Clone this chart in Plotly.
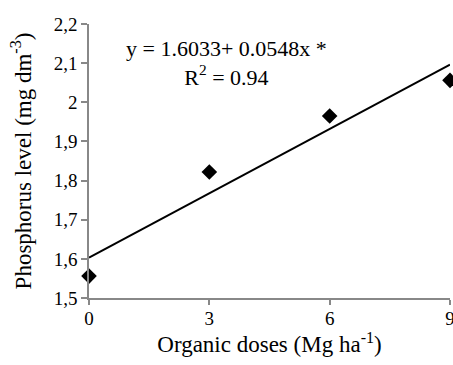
import plotly.graph_objects as go

doses = [0, 3, 6, 9]
phosphorus = [1.556, 1.822, 1.965, 2.056]
intercept = 1.6033
slope = 0.0548
fit_x = [0, 9]
fit_y = [intercept + slope * x for x in fit_x]
y_ticks = [1.5, 1.6, 1.7, 1.8, 1.9, 2.0, 2.1, 2.2]
y_tick_labels = ["1,5", "1,6", "1,7", "1,8", "1,9", "2", "2,1", "2,2"]
x_ticks = [0, 3, 6, 9]

font = "Liberation Serif"
fig = go.Figure()
fig.add_trace(go.Scatter(x=fit_x, y=fit_y, mode="lines",
                         line=dict(color="black", width=2), showlegend=False, cliponaxis=False))
fig.add_trace(go.Scatter(x=doses, y=phosphorus, mode="markers",
                         marker=dict(symbol="diamond", size=12, color="black"),
                         showlegend=False, cliponaxis=False))
fig.add_annotation(x=0.38, y=0.857, xref="paper", yref="paper",
                   xanchor="center", yanchor="middle",
                   text="y = 1.6033+ 0.0548x *<br>R<sup>2</sup> = 0.94",
                   showarrow=False, font=dict(family=font, size=22, color="black"),
                   align="center")
fig.update_layout(
    width=453, height=365,
    margin=dict(l=89, r=3, t=24, b=67, autoexpand=False),
    paper_bgcolor="white", plot_bgcolor="white",
    font=dict(family=font, size=19, color="black"),
    xaxis=dict(range=[0, 9], tickvals=x_ticks, showgrid=False, zeroline=False,
               showline=True, linecolor="#888", linewidth=1.5, automargin=False,
               ticklabeloverflow="allow", ticklabelstandoff=-3,
               ticks="outside", tickcolor="#888", ticklen=5, tickwidth=1.5,
               title=dict(text="Organic doses (Mg ha<sup>-1</sup>)", standoff=8)),
    yaxis=dict(range=[1.5, 2.2], tickvals=y_ticks, ticktext=y_tick_labels, showgrid=False,
               zeroline=False, showline=True, linecolor="#888", linewidth=1.5, automargin=False,
               ticks="outside", tickcolor="#888", ticklen=6, tickwidth=1.5,
               title=dict(text="Phosphorus level (mg dm<sup>-3</sup>)", standoff=16)),
)
fig.write_html("out.html", config={"displayModeBar": False},
               post_script="document.body.style.margin='0';document.body.style.overflow='hidden';")
